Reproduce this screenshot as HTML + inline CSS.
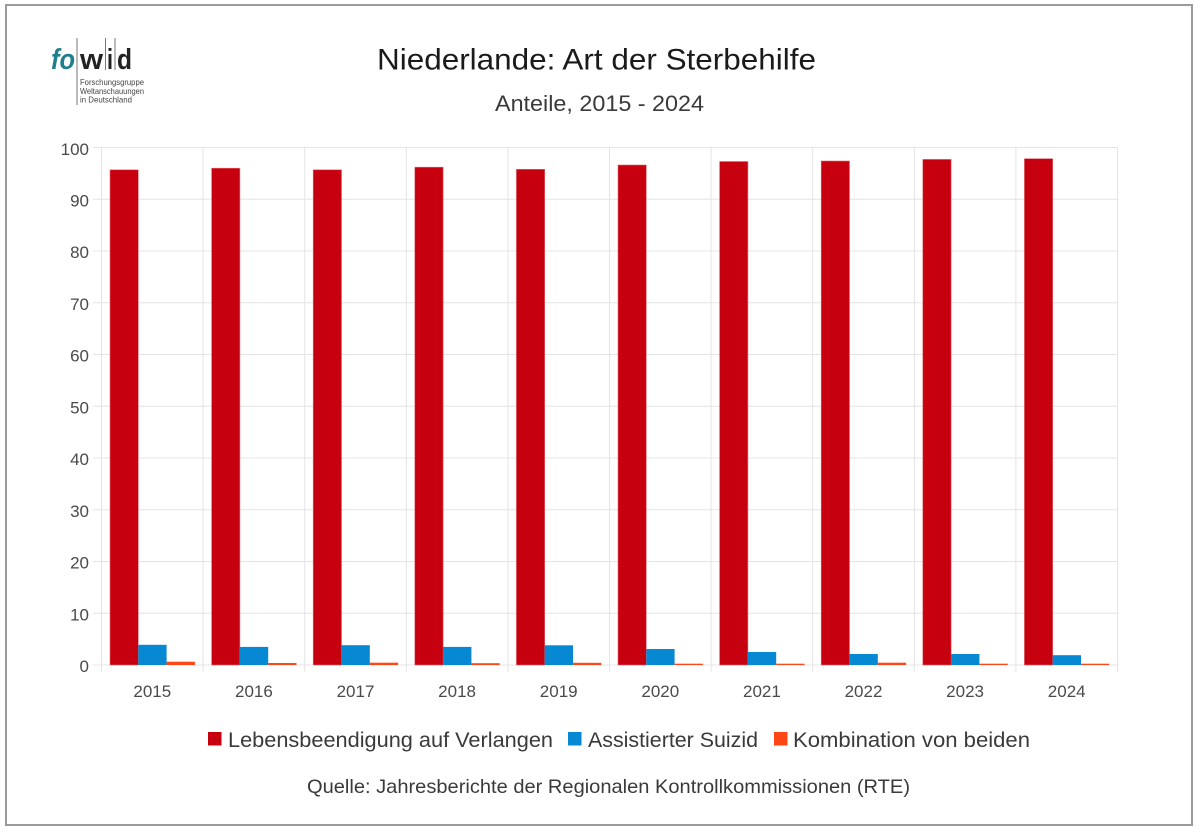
<!DOCTYPE html>
<html><head><meta charset="utf-8">
<style>
html,body{margin:0;padding:0;background:#fff;}
svg{display:block;}
text{font-family:"Liberation Sans",Arial,sans-serif;}
</style></head>
<body>
<svg width="1200" height="835" viewBox="0 0 1200 835" xmlns="http://www.w3.org/2000/svg">
<rect x="0" y="0" width="1200" height="835" fill="#fff"/>
<rect x="6" y="5" width="1186" height="820" fill="#fff" stroke="#9a9a9a" stroke-width="2"/>

<!-- logo -->
<g>
<line x1="77" y1="38" x2="77" y2="105" stroke="#777" stroke-width="1"/>
<line x1="105.5" y1="38" x2="105.5" y2="70" stroke="#777" stroke-width="1"/>
<line x1="115" y1="38" x2="115" y2="70" stroke="#777" stroke-width="1"/>
<text x="51" y="69" font-size="29" font-weight="bold" font-style="italic" fill="#1f7f8d" textLength="24" lengthAdjust="spacingAndGlyphs">fo</text>
<text x="80" y="69" font-size="29" font-weight="bold" fill="#222" textLength="23" lengthAdjust="spacingAndGlyphs">w</text>
<text x="107" y="69" font-size="29" font-weight="bold" fill="#222" textLength="6" lengthAdjust="spacingAndGlyphs">i</text>
<text x="117" y="69" font-size="29" font-weight="bold" fill="#222" textLength="15" lengthAdjust="spacingAndGlyphs">d</text>
<text x="80" y="85" font-size="8.5" fill="#444" textLength="64" lengthAdjust="spacingAndGlyphs">Forschungsgruppe</text>
<text x="80" y="94" font-size="8.5" fill="#444" textLength="64" lengthAdjust="spacingAndGlyphs">Weltanschauungen</text>
<text x="80" y="102.5" font-size="8.5" fill="#444" textLength="52" lengthAdjust="spacingAndGlyphs">in Deutschland</text>
</g>

<!-- titles -->
<text x="377" y="69.5" font-size="30" fill="#1a1a1a" textLength="439" lengthAdjust="spacingAndGlyphs">Niederlande: Art der Sterbehilfe</text>
<text x="495" y="111" font-size="22" fill="#3a3a3a" textLength="209" lengthAdjust="spacingAndGlyphs">Anteile, 2015 - 2024</text>

<!-- grid -->
<g stroke="#e4e4e4" stroke-width="1">
<line x1="93" y1="147.5" x2="1118" y2="147.5"/>
<line x1="93" y1="199.25" x2="1118" y2="199.25"/>
<line x1="93" y1="251" x2="1118" y2="251"/>
<line x1="93" y1="302.75" x2="1118" y2="302.75"/>
<line x1="93" y1="354.5" x2="1118" y2="354.5"/>
<line x1="93" y1="406.25" x2="1118" y2="406.25"/>
<line x1="93" y1="458" x2="1118" y2="458"/>
<line x1="93" y1="509.75" x2="1118" y2="509.75"/>
<line x1="93" y1="561.5" x2="1118" y2="561.5"/>
<line x1="93" y1="613.25" x2="1118" y2="613.25"/>
<line x1="93" y1="665" x2="1118" y2="665"/>
<line x1="101.5" y1="147.5" x2="101.5" y2="672"/>
<line x1="203.1" y1="147.5" x2="203.1" y2="672"/>
<line x1="304.7" y1="147.5" x2="304.7" y2="672"/>
<line x1="406.3" y1="147.5" x2="406.3" y2="672"/>
<line x1="507.9" y1="147.5" x2="507.9" y2="672"/>
<line x1="609.5" y1="147.5" x2="609.5" y2="672"/>
<line x1="711.1" y1="147.5" x2="711.1" y2="672"/>
<line x1="812.7" y1="147.5" x2="812.7" y2="672"/>
<line x1="914.3" y1="147.5" x2="914.3" y2="672"/>
<line x1="1015.9" y1="147.5" x2="1015.9" y2="672"/>
<line x1="1117.5" y1="147.5" x2="1117.5" y2="672"/>
</g>

<!-- y labels -->
<g font-size="17" fill="#4a4a4a" text-anchor="end">
<text x="89" y="155">100</text>
<text x="89" y="206.5">90</text>
<text x="89" y="258">80</text>
<text x="89" y="310">70</text>
<text x="89" y="361.5">60</text>
<text x="89" y="413.5">50</text>
<text x="89" y="465">40</text>
<text x="89" y="517">30</text>
<text x="89" y="568.5">20</text>
<text x="89" y="620.5">10</text>
<text x="89" y="672">0</text>
</g>

<!-- x labels -->
<g font-size="17" fill="#4a4a4a" text-anchor="middle">
<text x="152.3" y="697">2015</text>
<text x="253.9" y="697">2016</text>
<text x="355.5" y="697">2017</text>
<text x="457.1" y="697">2018</text>
<text x="558.7" y="697">2019</text>
<text x="660.3" y="697">2020</text>
<text x="761.9" y="697">2021</text>
<text x="863.5" y="697">2022</text>
<text x="965.1" y="697">2023</text>
<text x="1066.7" y="697">2024</text>
</g>

<!-- bars: red -->
<g fill="#c6000f" stroke="#e26a72" stroke-width="0.6">
<rect x="110" y="169.8" width="28.3" height="495.2"/>
<rect x="211.6" y="168.2" width="28.3" height="496.8"/>
<rect x="313.2" y="169.8" width="28.3" height="495.2"/>
<rect x="414.8" y="167.2" width="28.3" height="497.8"/>
<rect x="516.4" y="169.3" width="28.3" height="495.7"/>
<rect x="618" y="165" width="28.3" height="500"/>
<rect x="719.6" y="161.5" width="28.3" height="503.5"/>
<rect x="821.2" y="161" width="28.3" height="504"/>
<rect x="922.8" y="159.4" width="28.3" height="505.6"/>
<rect x="1024.4" y="158.7" width="28.3" height="506.3"/>
</g>
<!-- blue -->
<g fill="#0688d2">
<rect x="138.3" y="644.8" width="28.3" height="20.2"/>
<rect x="239.9" y="646.9" width="28.3" height="18.1"/>
<rect x="341.5" y="645.2" width="28.3" height="19.8"/>
<rect x="443.1" y="646.9" width="28.3" height="18.1"/>
<rect x="544.7" y="645.3" width="28.3" height="19.7"/>
<rect x="646.3" y="649" width="28.3" height="16"/>
<rect x="747.9" y="652" width="28.3" height="13"/>
<rect x="849.5" y="654" width="28.3" height="11"/>
<rect x="951.1" y="654" width="28.3" height="11"/>
<rect x="1052.7" y="655.2" width="28.3" height="9.8"/>
</g>
<!-- orange -->
<g fill="#ff4616">
<rect x="166.6" y="661.7" width="28.3" height="3.3"/>
<rect x="268.2" y="663" width="28.3" height="2"/>
<rect x="369.8" y="662.7" width="28.3" height="2.3"/>
<rect x="471.4" y="663.2" width="28.3" height="1.8"/>
<rect x="573" y="662.8" width="28.3" height="2.2"/>
<rect x="674.6" y="663.7" width="28.3" height="1.3"/>
<rect x="776.2" y="663.7" width="28.3" height="1.3"/>
<rect x="877.8" y="662.7" width="28.3" height="2.3"/>
<rect x="979.4" y="663.7" width="28.3" height="1.3"/>
<rect x="1081" y="663.7" width="28.3" height="1.3"/>
</g>

<!-- legend -->
<rect x="208" y="732" width="13.5" height="13.5" fill="#c6000f"/>
<text x="228" y="747" font-size="21" fill="#3a3a3a" textLength="325" lengthAdjust="spacingAndGlyphs">Lebensbeendigung auf Verlangen</text>
<rect x="568" y="732" width="13.5" height="13.5" fill="#0688d2"/>
<text x="588" y="747" font-size="21" fill="#3a3a3a" textLength="170" lengthAdjust="spacingAndGlyphs">Assistierter Suizid</text>
<rect x="774" y="732" width="13.5" height="13.5" fill="#ff4616"/>
<text x="793" y="747" font-size="21" fill="#3a3a3a" textLength="237" lengthAdjust="spacingAndGlyphs">Kombination von beiden</text>

<text x="307" y="793" font-size="19.5" fill="#3a3a3a" textLength="603" lengthAdjust="spacingAndGlyphs">Quelle: Jahresberichte der Regionalen Kontrollkommissionen (RTE)</text>
</svg>
</body></html>
